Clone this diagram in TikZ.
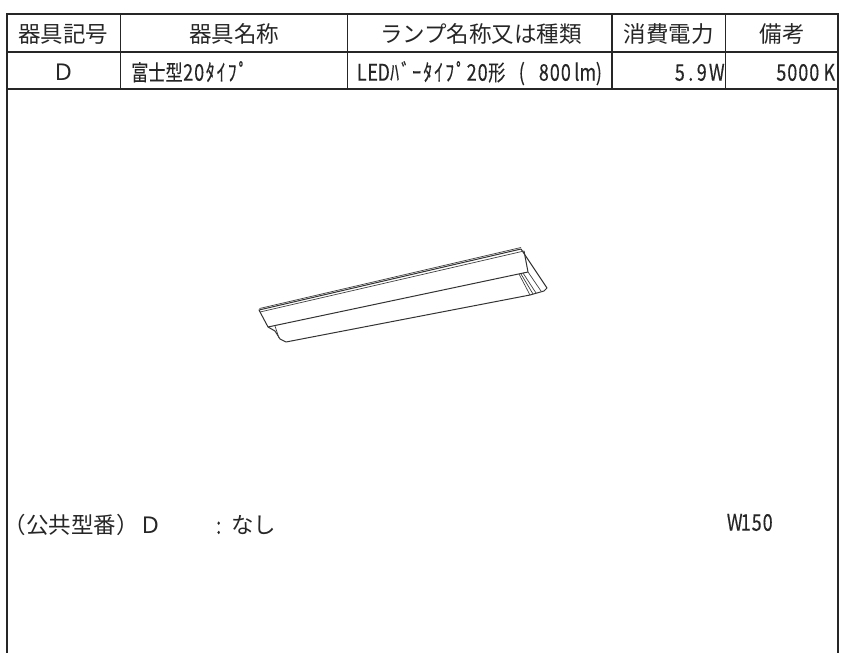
\documentclass[tikz,border=0pt]{standalone}
\usepackage{fontspec}
\setmainfont{Noto Sans CJK JP}
\newfontfamily\narrowf[FakeStretch=0.78,FakeBold=0.25]{Noto Sans CJK JP}
\newcommand\cellrun[1]{\cellrunaux#1\relax}
\def\cellrunaux#1{\ifx#1\relax\else\makebox[11pt][c]{#1}\expandafter\cellrunaux\fi}
\tikzset{
  frame/.style={line width=1.6pt,draw=black!85},
  lampline/.style={line width=1pt,draw=black!80,line join=round},
  lampthin/.style={line width=0.7pt,draw=black!75,line join=round},
  txt/.style={inner sep=0pt,font=\fontsize{22.5}{24}\selectfont,text=black!85,anchor=mid},
  txtl/.style={txt,anchor=mid west},
  nar/.style={inner sep=0pt,font=\fontsize{23}{24}\narrowf,text=black!85}
}
\begin{document}
\begin{tikzpicture}[x=1pt,y=-1pt]
\useasboundingbox (0,0) rectangle (841,653);
% table
\draw[frame] (7,653) -- (7,14) -- (838,14) -- (838,653);
\draw[frame] (7,52) -- (838,52);
\draw[frame] (7,89) -- (838,89);
\foreach \x in {120.5,347.5,612,725.5} \draw[frame] (\x,14) -- (\x,89);
% header
\node[txt] (h1) at (63.5,39.5) {器具記号};
\node[txt] (h2) at (234,39.5) {器具名称};
\node[txt] (h3) at (481,39.5) {ランプ名称又は種類};
\node[txt] (h4) at (668.5,39.5) {消費電力};
\node[txt] (h5) at (782,39.5) {備考};
% row
\node[txt] (r1) at (63.5,78) {Ｄ};
\node[nar,anchor=mid west] (r2) at (131,78) {{\fontsize{22}{24}\selectfont 富士型}\cellrun{20ﾀｲﾌﾟ}};
\node[nar,anchor=mid west] (r3) at (356,78) {\cellrun{LEDﾊﾞｰﾀｲﾌﾟ20}{\fontsize{22}{24}\selectfont 形}\cellrun{~(~800lm)}};
\node[nar,anchor=mid east] (r4) at (722.5,78) {\cellrun{5.9}\hspace{4pt}\cellrun{W}};
\node[nar,anchor=mid east] (r5) at (835,78) {\cellrun{5000}\hspace{4pt}\cellrun{K}};
% lamp
\draw[lampline] (259,310) -- (521,249) -- (547,288) -- (544,291) -- (530,295) -- (286,342) -- (280,339) -- (275,331) -- (268,327) -- cycle;
\draw[lampthin] (259.5,308.5) -- (521,247.5);
\draw[lampthin] (260,312) -- (524,251);
\draw[lampline] (268,327) -- (528,272) -- (524,251);
\draw[lampthin] (528,272) -- (541,291);
\draw[lampthin] (275,326) -- (279,338);
\draw[lampthin] (519,274) -- (530,295);
\draw[lampthin] (521,274) -- (533,294);
\draw[lampthin] (523,273) -- (536,293);
% bottom
\node[txtl] (c1) at (3.5,531) {（公共型番）\hspace{1pt}Ｄ};
\node[nar,anchor=mid west] (c2) at (216,531) {:};
\node[txtl] (c3) at (231,531) {なし};
\node[nar,anchor=mid west] (c4) at (729,528) {\cellrun{W150}};
\end{tikzpicture}
\end{document}
